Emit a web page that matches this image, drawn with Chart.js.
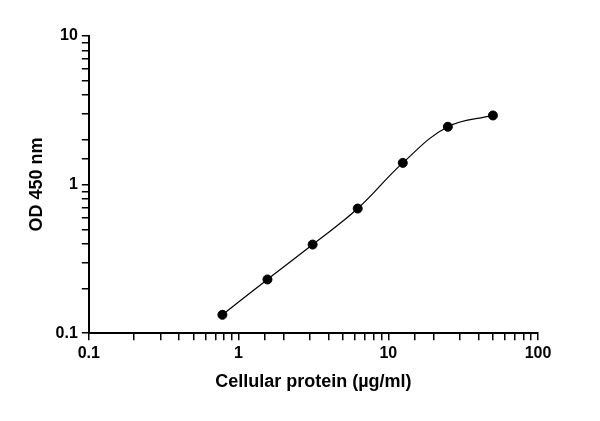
<!DOCTYPE html>
<html>
<head>
<script src="https://cdn.jsdelivr.net/npm/chart.js@4"></script>
<style>
  body { margin: 0; background: #fff; }
  #wrap { width: 600px; height: 421px; }
</style>
</head>
<body>
<div id="wrap"><canvas id="myChart"></canvas></div>
<script>
const protein = [0.78, 1.56, 3.125, 6.25, 12.5, 25, 50];
const od = [0.133, 0.23, 0.395, 0.69, 1.40, 2.45, 2.92];
const xTicks = [0.1, 1, 10, 100];
const yTicks = [0.1, 1, 10];

const pts = protein.map((x, i) => ({ x, y: od[i] }));
const ctx = document.getElementById('myChart').getContext('2d');

const isMajor = v => xTicks.concat(yTicks).some(t => Math.abs(v - t) < t * 1e-6);
const font = { family: 'Liberation Sans, Arial', weight: 'bold', size: 16 };
const titleFont = { family: 'Liberation Sans, Arial', weight: 'bold', size: 18 };

new Chart(ctx, {
    type: 'scatter',
    data: {
        datasets: [
            {
                data: pts,
                showLine: true,
                borderColor: '#000',
                borderWidth: 1.2,
                pointRadius: 0,
                tension: 0.4
            },
            {
                data: pts,
                backgroundColor: '#000',
                borderColor: '#000',
                pointRadius: 4.5
            }
        ]
    },
    options: {
        responsive: true,
        maintainAspectRatio: false,
        animation: false,
        layout: { padding: { top: 36, right: 62, left: 22, bottom: 24 } },
        plugins: { legend: { display: false }, tooltip: { enabled: false } },
        scales: {
            x: {
                type: 'logarithmic',
                min: 0.1, max: 100,
                border: { color: '#000', width: 2 },
                grid: { drawOnChartArea: false, color: '#000', tickLength: 7, lineWidth: 1.5 },
                ticks: {
                    color: '#000', font, padding: 4,
                    autoSkip: false, maxRotation: 0, minRotation: 0,
                    callback: v => isMajor(v) ? String(v) : ''
                },
                title: { display: true, text: 'Cellular protein (µg/ml)', color: '#000', font: titleFont }
            },
            y: {
                type: 'logarithmic',
                min: 0.1, max: 10,
                border: { color: '#000', width: 2 },
                grid: { drawOnChartArea: false, color: '#000', tickLength: 7, lineWidth: 1.5 },
                ticks: {
                    color: '#000', font, padding: 4,
                    autoSkip: false,
                    callback: v => isMajor(v) ? String(v) : ''
                },
                title: { display: true, text: 'OD 450 nm', color: '#000', font: titleFont }
            }
        }
    }
});
</script>
</body>
</html>
